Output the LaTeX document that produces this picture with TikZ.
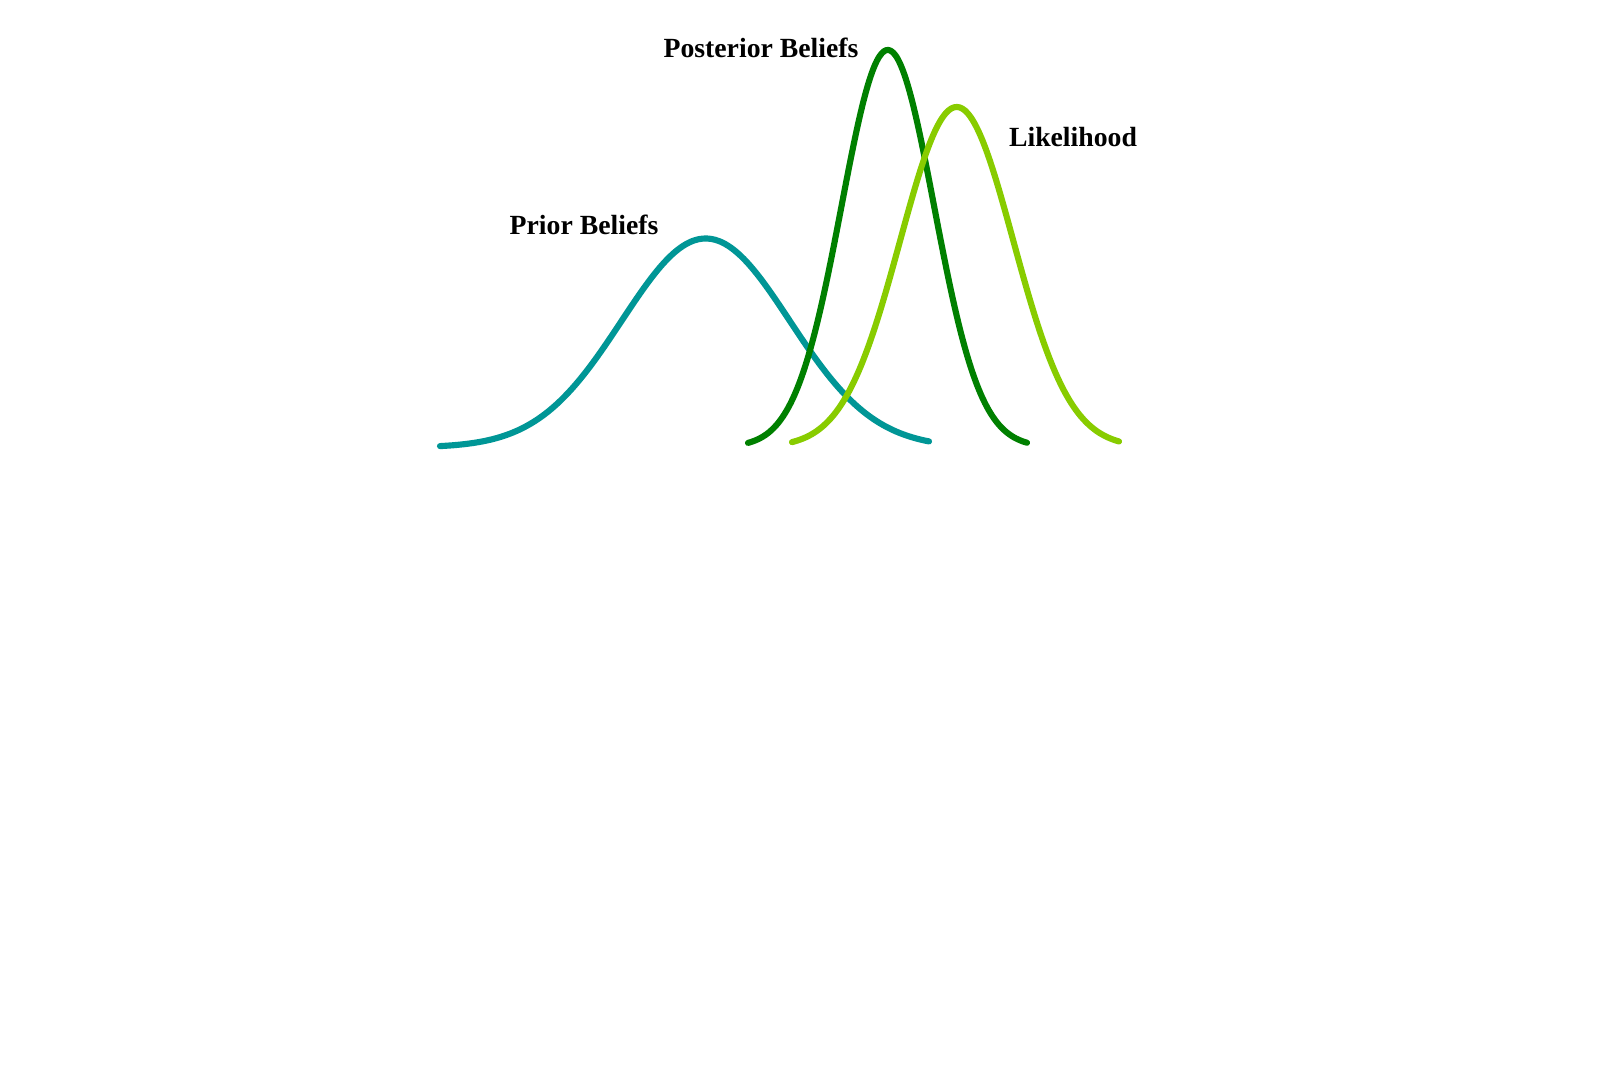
\documentclass[tikz,border=0pt]{standalone}
\usepackage{fontspec}
\setmainfont{Liberation Serif}
\definecolor{priorc}{RGB}{0,150,150}
\definecolor{postc}{RGB}{0,128,0}
\definecolor{likec}{RGB}{136,204,0}
\tikzset{
  curve/.style={line width=4.6pt, line cap=round, line join=round},
  lbl/.style={font=\fontsize{20.8}{24}\selectfont\bfseries, inner sep=0pt}
}
\begin{document}
\begin{tikzpicture}[x=0.75pt,y=-0.75pt]
\useasboundingbox[fill=white] (0,0) rectangle (1613,1072);
% Prior
\draw[curve, priorc] plot[domain=440:929, samples=120, smooth]
  (\x, {447.5 - 209*exp(-0.5*((\x-705.7)/84)^2)});
% Posterior
\draw[curve, postc] plot[domain=748:1027, samples=120, smooth]
  (\x, {447 - 397*exp(-0.5*((\x-887.8)/46.3)^2)});
% Likelihood
\draw[curve, likec] plot[domain=792:1119, samples=120, smooth]
  (\x, {447 - 340*exp(-0.5*((\x-956.7)/56.6)^2)});
\node[lbl] (post) at (761,48) {Posterior Beliefs};
\node[lbl] (like) at (1073,137) {Likelihood};
\node[lbl] (prior) at (584,225) {Prior Beliefs};
\end{tikzpicture}
\end{document}
